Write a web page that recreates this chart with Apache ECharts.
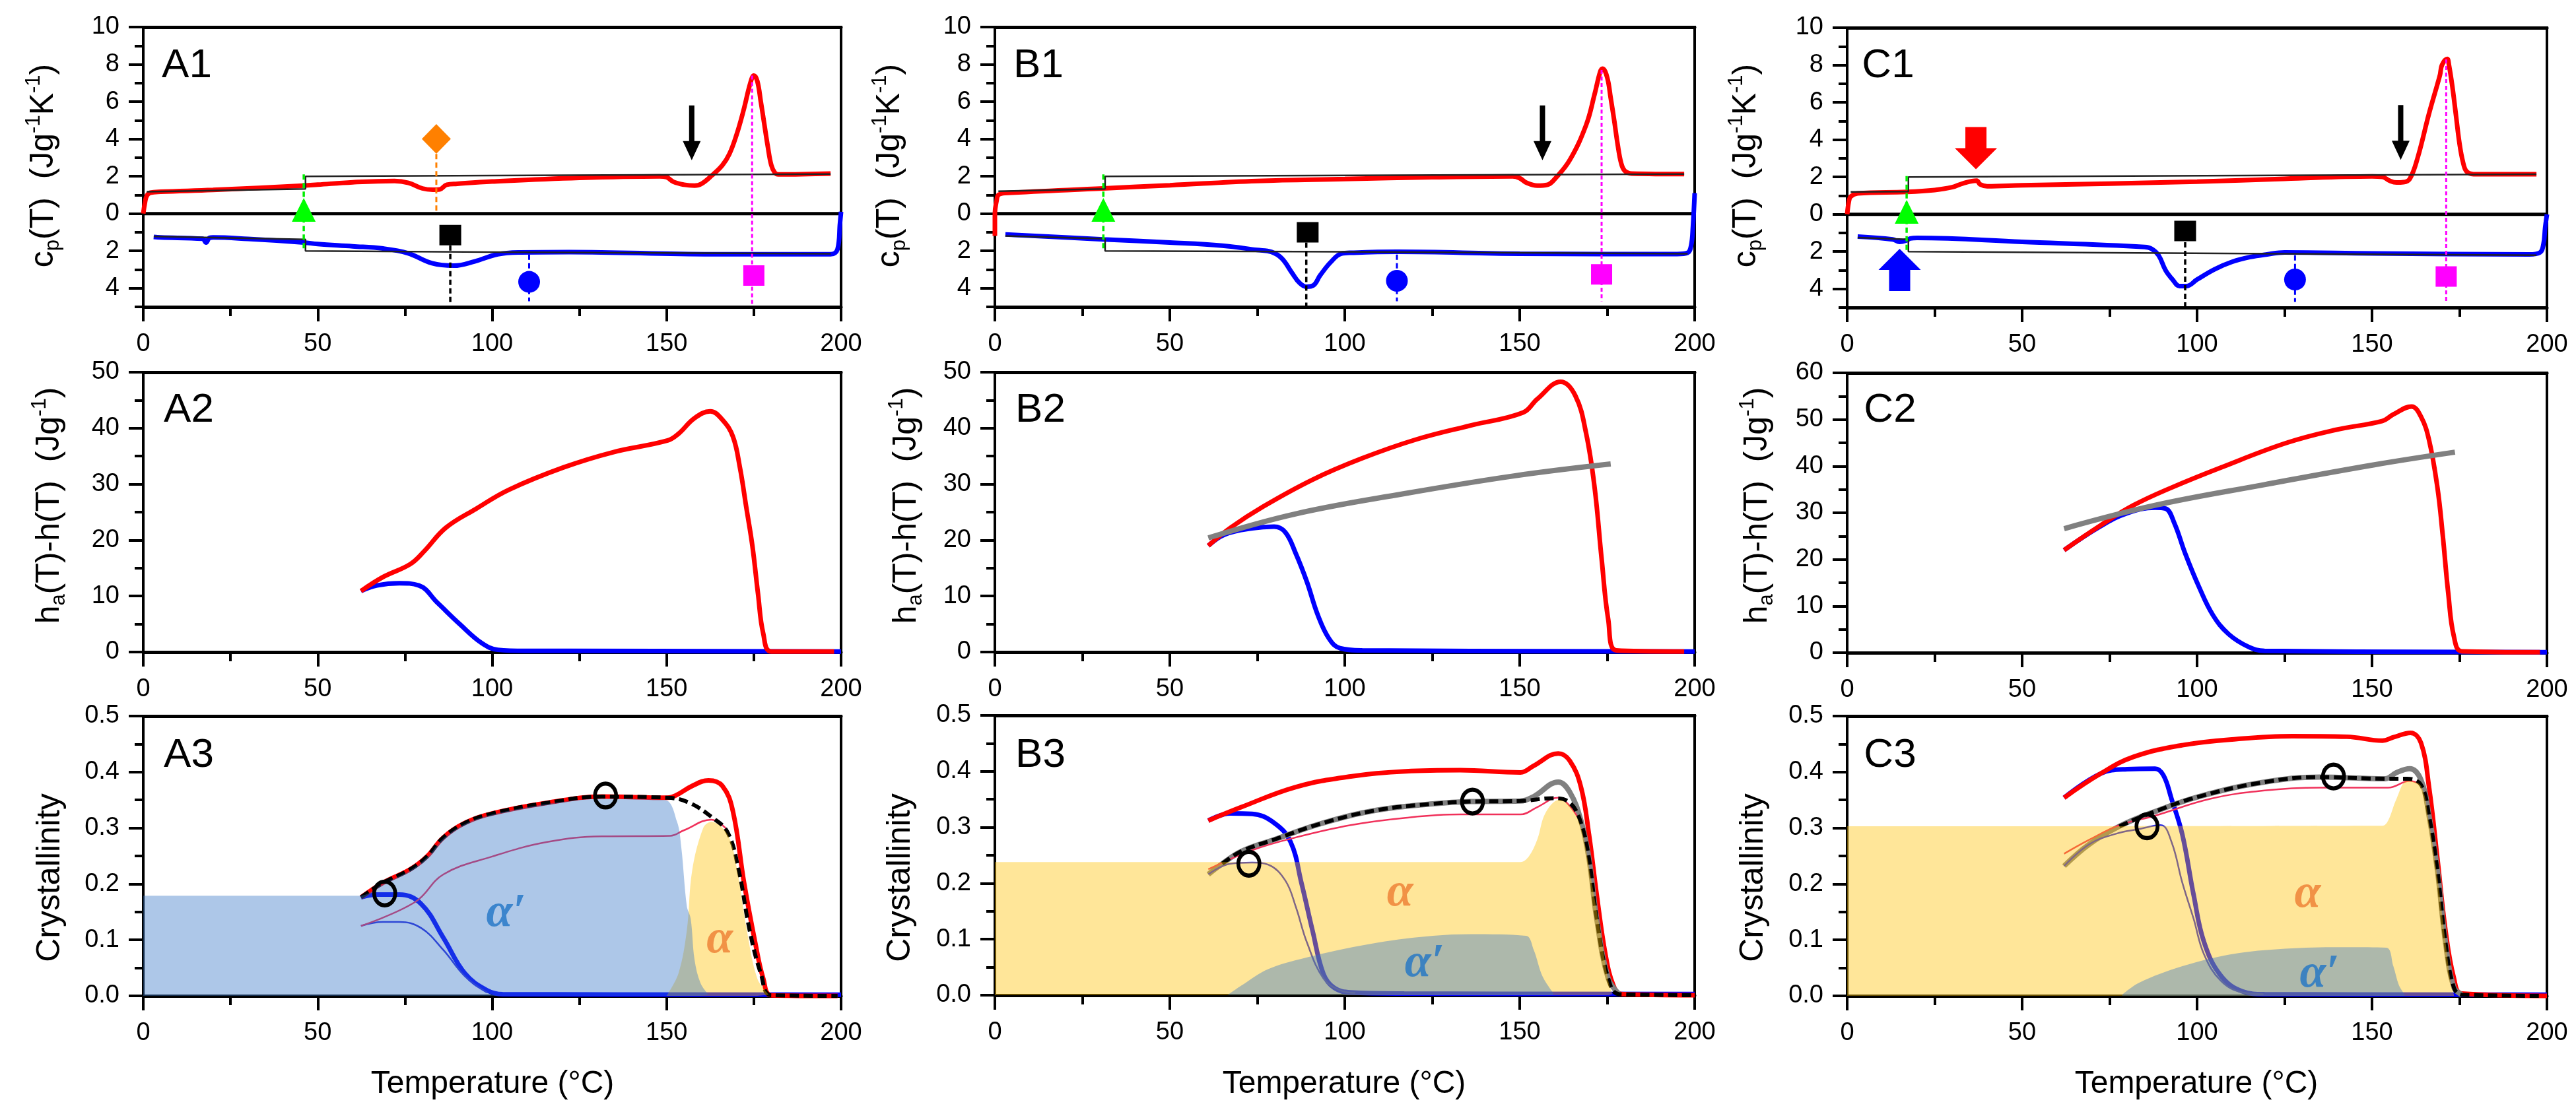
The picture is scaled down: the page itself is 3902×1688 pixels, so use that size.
<!DOCTYPE html>
<html><head><meta charset="utf-8">
<script src="https://cdn.jsdelivr.net/npm/echarts@6/dist/echarts.min.js"></script>
<style>html,body{margin:0;padding:0;background:#fff}#c{width:3902px;height:1688px}</style>
</head><body><div id="c"></div>
<script>
// ---------- tick values ----------
const cpMajor=[-4,-2,0,2,4,6,8,10], cpMinor=[-5,-3,-1,1,3,5,7,9];
const hMajor=[0,10,20,30,40,50], hMinor=[5,15,25,35,45];
const hMajorC=[0,10,20,30,40,50,60], hMinorC=[5,15,25,35,45,55];
const crMajor=[0,0.1,0.2,0.3,0.4,0.5], crMinor=[0.05,0.15,0.25,0.35,0.45];
const zeroLine=[[0,0],[200,0]];

// ---------- A1 ----------
const a1Red=[[0,0],[0.5,0.6],[1,0.95],[2,1.12],[5,1.17],[20,1.27],[46,1.5],[50,1.55],[60,1.68],[72,1.75],[76,1.65],[80,1.35],[83,1.28],[85,1.3],[87,1.55],[90,1.6],[100,1.72],[125,1.92],[148,2.0],[150,1.95],[152,1.7],[155,1.55],[158,1.5],[160,1.6],[163,2.05],[166,2.6],[168,3.2],[170,4.2],[172,5.5],[174,7.0],[175,7.4],[176,7.1],[177,6.0],[178,4.8],[179,3.6],[180,2.6],[181,2.2],[182,2.1],[197,2.15]];
const a1Blue=[[3,-1.25],[5,-1.28],[17,-1.35],[18,-1.55],[19,-1.3],[20,-1.28],[30,-1.36],[46,-1.55],[50,-1.63],[60,-1.75],[68.7,-1.87],[75.8,-2.12],[82.8,-2.66],[89,-2.79],[95,-2.56],[101.6,-2.18],[108,-2.08],[122,-2.06],[163,-2.18],[197,-2.18],[199,-1.9],[199.7,-0.5],[200,0.1]];
const a1BaseUp=[[1,1.17],[46.5,1.32],[46.5,2.0],[197,2.12]];
const a1BaseDn=[[3,-1.22],[46.5,-1.38],[46.5,-2.0],[100,-2.06],[197,-2.15]];
const a1Green=[[46,2.1],[46,-2.0]], a1Orange=[[84,3.2],[84,0]], a1Black=[[88,-1.7],[88,-4.9]], a1BlueG=[[110.6,-2.2],[110.6,-4.7]], a1Mag=[[174.5,7.4],[174.5,-4.9]];
const a1Tri=[[46,0.2]], a1Dia=[[84,4]], a1Sq=[[88,-1.15]], a1Cir=[[110.6,-3.66]], a1MagSq=[[175,-3.32]], a1Arrow=[[157.2,4.33]];
// ---------- B1 ----------
const b1Red=[[0,-1.2],[0,0],[0.5,0.7],[1,1.0],[3,1.1],[31,1.35],[50,1.52],[75,1.75],[100,1.85],[125,1.95],[148,2.0],[150,1.9],[152,1.65],[155,1.5],[158,1.55],[160,1.85],[164.3,2.87],[169,4.76],[171.4,6.4],[173,7.6],[173.7,7.77],[175,7.3],[176,6.2],[177,5],[178,3.7],[179,2.7],[180,2.3],[182,2.15],[197,2.12]];
const b1Blue=[[3,-1.12],[31,-1.38],[50,-1.55],[65,-1.72],[75,-1.95],[79,-2.05],[82,-2.4],[85,-3.2],[87,-3.7],[89,-3.92],[91,-3.85],[93,-3.3],[96,-2.6],[99,-2.15],[102,-2.1],[115,-2.05],[150,-2.15],[195,-2.17],[198,-2.1],[199,-1.7],[199.5,-0.7],[200,1.1]];
const b1BaseUp=[[1,1.2],[31.5,1.32],[31.5,2.0],[197,2.12]];
const b1BaseDn=[[3,-1.2],[31.5,-1.35],[31.5,-2.0],[100,-2.05],[198,-2.15]];
const b1Green=[[31,2.1],[31,-1.95]], b1Black=[[89,-1.55],[89,-5]], b1BlueG=[[114.9,-2.2],[114.9,-4.7]], b1Mag=[[173.4,7.7],[173.4,-4.7]];
const b1Tri=[[31,0.2]], b1Sq=[[89.4,-1.0]], b1Cir=[[114.9,-3.6]], b1MagSq=[[173.4,-3.26]], b1Arrow=[[156.5,4.33]];
// ---------- C1 ----------
const c1Red=[[0,0],[0.5,0.7],[1,0.95],[3,1.12],[17,1.2],[25,1.3],[30,1.45],[33,1.65],[37,1.8],[38,1.6],[40,1.5],[50,1.55],[100,1.75],[125,1.9],[150,2.03],[153,2.0],[155,1.8],[157,1.7],[159,1.72],[160.8,1.9],[163,3.0],[166.3,5.4],[169.4,7.45],[170,8.0],[171.5,8.33],[172,8.0],[173,6.8],[174,5.3],[175,3.8],[176,2.8],[177,2.3],[179,2.15],[197,2.15]];
const c1Blue=[[3,-1.2],[13,-1.35],[15,-1.48],[17,-1.4],[18,-1.3],[20,-1.27],[50,-1.48],[85,-1.75],[87,-1.85],[89,-2.2],[91,-3.0],[93,-3.5],[95,-3.85],[97,-3.85],[100,-3.5],[105,-2.95],[110,-2.55],[115,-2.3],[120,-2.15],[125,-2.05],[150,-2.1],[195,-2.15],[198,-2.05],[199,-1.6],[199.5,-0.7],[200,0]];
const c1BaseUp=[[1,1.2],[17.5,1.22],[17.5,2.0],[197,2.15]];
const c1BaseDn=[[3,-1.25],[17.5,-1.35],[17.5,-2.0],[197,-2.2]];
const c1Green=[[17,2.05],[17,-2.0]], c1Black=[[96.6,-1.5],[96.6,-5]], c1BlueG=[[128,-2.2],[128,-4.7]], c1Mag=[[171.2,8.3],[171.2,-4.7]];
const c1Tri=[[17,0.13]], c1Sq=[[96.6,-0.9]], c1Cir=[[128,-3.5]], c1MagSq=[[171.2,-3.34]], c1Arrow=[[158.2,4.38]], c1RedArrow=[[36.8,3.54]], c1BlueArrow=[[15,-2.98]];

// ---------- A2 / B2 / C2 ----------
const a2Red=[[62.4,10.9],[68.7,13.4],[76.5,15.7],[80.5,18],[86.7,22.2],[95.4,25.6],[104.8,29],[120.5,33],[134.6,35.7],[150.3,37.8],[153.4,39],[158,41.8],[162.5,43],[166,41.5],[169,38.5],[171,33],[172.8,26],[174.6,18.9],[176.2,10.4],[177.7,3.3],[180,0.1],[198,0.1]];
const a2Blue=[[62.4,10.9],[67,11.9],[73.4,12.3],[79,11.9],[84.4,8.75],[90.7,5],[97,1.6],[101.6,0.4],[109.5,0.2],[122,0.2],[200,0.1]];
const b2Red=[[61,19],[67.3,22.2],[76.7,26],[90.8,30.8],[104.9,34.6],[120.5,38],[136,40.5],[151,42.8],[155,45.2],[161.7,48.3],[165.9,45.8],[169,39],[171.4,29.4],[173.4,16.7],[175.3,5.8],[177.6,0.3],[197,0.1]];
const b2Blue=[[61,19],[65.7,21],[73.5,22.1],[79.8,22.4],[83,21.4],[86,17.6],[89.2,12.5],[92.3,6.6],[95.5,2.4],[98.6,0.7],[105,0.3],[200,0.1]];
const b2Gray=[[61,20.4],[86,24.7],[117,28.3],[148.7,31.5],[176,33.6]];
const c2Red=[[62,22],[72.4,27.3],[81.8,31.6],[92.7,35.4],[106.8,39.7],[125.6,45],[139.7,47.8],[153,49.7],[156.1,51.1],[161.3,52.8],[164,50.6],[166.3,45.6],[168.7,35.4],[170.2,25.3],[171.8,12.7],[173.4,3.5],[175.7,0.3],[198,0.1]];
const c2Blue=[[62,22],[72.4,27.1],[80,29.9],[88,31.1],[91,30.9],[93.5,27.8],[96.6,21.3],[100.5,14.2],[104.5,8.1],[109,4],[114.6,1.3],[119.3,0.4],[200,0.1]];
const c2Gray=[[62,26.6],[88,31.6],[119,36],[150.7,40.3],[173.7,43]];

// ---------- A3 ----------
const a3Red=[[62.4,0.176],[68.7,0.202],[76.5,0.226],[81.3,0.249],[86,0.283],[92.2,0.309],[100,0.326],[115.8,0.345],[131.5,0.356],[150.3,0.354],[152.6,0.358],[157.3,0.375],[162,0.385],[166,0.375],[169,0.33],[172.2,0.202],[175.4,0.095],[177.7,0.031],[180,0.001],[199,0]];
const a3Dash=[[62.4,0.176],[68.7,0.202],[76.5,0.226],[81.3,0.249],[86,0.283],[92.2,0.309],[100,0.326],[115.8,0.345],[131.5,0.356],[150.3,0.354],[156.5,0.345],[162.8,0.32],[167.5,0.292],[170.7,0.223],[173.8,0.117],[177,0.04],[180,0.001],[199,0]];
const a3ThinRed=[[62.4,0.125],[78,0.168],[86,0.217],[100,0.249],[115.8,0.275],[131.5,0.285],[151,0.286],[155,0.296],[162.8,0.315],[167.5,0.296]];
const a3ThinBlue=[[62.4,0.125],[68.7,0.132],[73.4,0.132],[79.7,0.121],[86,0.082],[92.2,0.035],[98.5,0.006]];
const a3Blue=[[62.4,0.176],[67,0.181],[73.4,0.181],[79.7,0.164],[86,0.104],[92.2,0.04],[98.5,0.01],[103,0.003],[200,0.002]];
const a3FillBlue=[[0,0.179],[62,0.179],[68.7,0.2],[76.5,0.224],[81.3,0.247],[86,0.281],[92.2,0.307],[100,0.324],[115.8,0.343],[131.5,0.352],[149.5,0.35],[153,0.311],[154.2,0.266],[155.8,0.16],[156.9,0.138],[158,0.065],[159.7,0.023],[162,0.002]];
const a3FillYellow=[[150,0],[153.4,0.04],[155.8,0.117],[157.3,0.223],[160.5,0.3],[162.8,0.311],[167.5,0.288],[170,0.232],[173,0.117],[176,0.031],[179.3,0.002]];
const a3Rings=[[69.2,0.183],[132.5,0.358]];
const a3AlphaP=[[104,0.147]], a3Alpha=[[165.2,0.1]];
// ---------- B3 ----------
const b3Red=[[61,0.312],[70.4,0.336],[86,0.372],[101.7,0.391],[117.4,0.4],[133,0.402],[150.2,0.398],[154,0.41],[161,0.432],[164.3,0.419],[167.5,0.372],[169.8,0.287],[172,0.18],[174.5,0.073],[176.8,0.017],[179,0.002],[200,0]];
const b3Gray=[[61,0.216],[65,0.235],[70.4,0.257],[79.8,0.278],[93.9,0.308],[109.5,0.331],[125.2,0.342],[136,0.346],[150.2,0.347],[154,0.355],[161,0.381],[164.3,0.363],[167.5,0.312],[169.8,0.244],[172,0.137],[175.3,0.03],[178.4,0.002]];
const b3Dash=[[65,0.235],[70.4,0.257],[79.8,0.278],[93.9,0.308],[109.5,0.331],[125.2,0.342],[136,0.346],[150.2,0.347],[159.6,0.352],[164.3,0.344],[167.5,0.308],[169.8,0.244],[172,0.137],[175.3,0.03],[178.4,0.002],[199,0]];
const b3ThinRed=[[61,0.225],[73.5,0.259],[86,0.282],[101.7,0.304],[117.4,0.317],[133,0.323],[150.2,0.323],[155,0.336],[161,0.353],[164.3,0.338],[167.5,0.308]];
const b3ThinBlue=[[61,0.216],[67.3,0.235],[73.5,0.237],[78.2,0.233],[83,0.205],[86,0.158],[89.2,0.094],[93.9,0.03],[98.6,0.009],[103,0.004]];
const b3Blue=[[61,0.312],[67.3,0.325],[73.5,0.324],[79.8,0.308],[84.5,0.274],[87.6,0.201],[90.8,0.115],[93.9,0.038],[97,0.013],[101.7,0.005],[117,0.003],[200,0.002]];
const b3FillYellow=[[0,0.238],[150.2,0.238],[152.6,0.248],[155,0.278],[157.3,0.325],[161.2,0.349],[164.3,0.338],[167.5,0.3],[170.6,0.2],[173,0.115],[175.3,0.026],[176.5,0.002]];
const b3FillBlue=[[66.5,0],[70.4,0.017],[78.2,0.047],[90.8,0.07],[109.5,0.094],[125.2,0.106],[136,0.109],[151.8,0.106],[154,0.081],[156.5,0.034],[159.6,0.004]];
const b3Rings=[[72.6,0.235],[136.5,0.346]];
const b3AlphaP=[[122.8,0.056]], b3Alpha=[[115.8,0.182]];
// ---------- C3 ----------
const c3Red=[[62,0.354],[72.4,0.397],[81.8,0.427],[95.8,0.448],[111.5,0.459],[127.2,0.464],[142.8,0.463],[153,0.456],[156.1,0.462],[161,0.47],[164,0.452],[166.3,0.373],[168.7,0.245],[171,0.117],[173.4,0.032],[175.7,0.004],[200,0]];
const c3Gray=[[62,0.232],[69.2,0.271],[77.8,0.303],[86.5,0.326],[100.5,0.356],[119.3,0.382],[135,0.391],[153.8,0.388],[157,0.399],[160.8,0.406],[164,0.386],[166.3,0.322],[168.7,0.224],[171,0.096],[173.4,0.015],[175.7,0.002]];
const c3Dash=[[77.8,0.303],[86.5,0.326],[100.5,0.356],[119.3,0.382],[135,0.391],[153.8,0.388],[160,0.388],[164,0.377],[166.3,0.322],[168.7,0.224],[171,0.096],[173.4,0.015],[175.7,0.002],[199,0]];
const c3ThinRed=[[62,0.254],[69.2,0.279],[77.8,0.305],[88,0.322],[103.7,0.352],[119.3,0.367],[135,0.372],[154.6,0.372],[160.8,0.384],[164,0.377]];
const c3ThinBlue=[[62,0.232],[69.2,0.271],[77,0.29],[83.3,0.298],[89.6,0.305],[92.7,0.275],[95.8,0.202],[99,0.138],[102,0.074],[106.8,0.027],[113,0.006],[119,0.003]];
const c3Blue=[[62,0.354],[72.4,0.397],[80,0.405],[88,0.406],[90.4,0.394],[92.7,0.352],[95.8,0.288],[99,0.181],[102,0.096],[106.8,0.036],[113,0.008],[119.3,0.003],[200,0.002]];
const c3FillYellow=[[0,0.303],[153,0.304],[154.6,0.313],[157,0.352],[160,0.384],[164,0.375],[166.3,0.309],[168.7,0.211],[171,0.096],[172.6,0.019],[173.4,0.003]];
const c3FillBlue=[[78.6,0.002],[83.3,0.023],[95.8,0.053],[111.5,0.076],[127.2,0.085],[142.8,0.087],[154.1,0.086],[156.1,0.053],[157.7,0.019],[159.3,0.003]];
const c3Rings=[[85.7,0.303],[139,0.392]];
const c3AlphaP=[[135,0.038]], c3Alpha=[[131.6,0.181]];

// ---------- layout ----------
const F='"Liberation Sans",Arial,sans-serif';
const xs=[[217,1057],[1507,1060],[2798,1060]];
const ys=[[41,424,-5,10],[564,424,0,50],[1085,424,0,0.5]];
const grids=[],xAxes=[],yAxes=[],series=[],graphics=[];
const fmtCp=v=>String(Math.abs(v)), fmtH=v=>String(v), fmtC=v=>v.toFixed(1);
function addPanel(col,row,major,minor,fmt,ymax,dy){
  const g=grids.length;
  grids.push({left:xs[col][0],width:xs[col][1],top:ys[row][0]+dy,height:ys[row][1],show:true,borderColor:'#000',borderWidth:4,backgroundColor:'transparent',containLabel:false});
  xAxes.push({gridIndex:g,type:'value',position:'bottom',min:0,max:200,interval:50,splitLine:{show:false},
    axisLine:{show:true,onZero:false,lineStyle:{color:'#000',width:5}},axisTick:{show:true,length:22,lineStyle:{color:'#000',width:4}},
    minorTick:{show:true,splitNumber:2,length:14,lineStyle:{color:'#000',width:4}},minorSplitLine:{show:false},
    axisLabel:{show:true,margin:38,fontSize:38,color:'#000',fontFamily:F,hideOverlap:false,showMinLabel:true,showMaxLabel:true}});
  xAxes.push({gridIndex:g,type:'value',position:'top',min:0,max:200,interval:50,splitLine:{show:false},
    axisLine:{show:true,onZero:false,lineStyle:{color:'#000',width:5}},axisTick:{show:false},axisLabel:{show:false}});
  yAxes.push({gridIndex:g,type:'value',position:'left',min:ys[row][2],max:ymax,splitLine:{show:false},
    axisLine:{show:true,onZero:false,lineStyle:{color:'#000',width:4}},
    axisTick:{show:true,length:22,customValues:major,lineStyle:{color:'#000',width:4}},
    axisLabel:{show:true,margin:36,fontSize:38,color:'#000',fontFamily:F,customValues:major,formatter:fmt,hideOverlap:false}});
  yAxes.push({gridIndex:g,type:'value',position:'left',min:ys[row][2],max:ymax,splitLine:{show:false},
    axisLine:{show:false,onZero:false},axisTick:{show:true,length:13,customValues:minor,lineStyle:{color:'#000',width:4}},axisLabel:{show:false}});
  return g*2;
}
const base={type:'line',symbol:'none',silent:true,animation:false,clip:false};
function line(ax,data,color,width,extra){series.push(Object.assign({},base,{z:2,xAxisIndex:ax,yAxisIndex:ax,data,lineStyle:Object.assign({color,width,cap:'butt'},extra&&extra.ls),smooth:extra&&extra.straight?false:0.4}));}
const straight=()=>({straight:true});
function fill(ax,data,color){series.push(Object.assign({},base,{z:3,xAxisIndex:ax,yAxisIndex:ax,data,lineStyle:{width:0,color:'transparent'},areaStyle:{color,opacity:1,origin:'start'},smooth:0.35}));}
function mark(ax,data,symbol,size,color,extra){series.push({type:'scatter',z:4,silent:true,animation:false,clip:false,xAxisIndex:ax,yAxisIndex:ax,data,symbol,symbolSize:size,itemStyle:Object.assign({color,opacity:1},extra)});}
function word(ax,data,text,color,size){series.push({type:'scatter',z:5,silent:true,animation:false,clip:false,xAxisIndex:ax,yAxisIndex:ax,data,symbol:'circle',symbolSize:1,itemStyle:{color:'transparent'},
  label:{show:true,position:'inside',formatter:text,color,fontSize:size,fontStyle:'italic',fontWeight:'bold',fontFamily:'"Liberation Serif",serif'}});}
const ARROW='path://M9.5 0H17.5V54H27L13.5 83L0 54H9.5Z';
const FAT_DOWN='path://M16 0H48V32H64L32 64L0 32H16Z', FAT_UP='path://M32 0L64 32H48V64H16V32H0Z';
const DASH=[8,5];
function topPanel(ax,p){
  line(ax,zeroLine,'#000',5,straight());
  line(ax,p.red,'#ff0000',7);
  line(ax,p.blue,'#0000ff',7);
  line(ax,p.up,'#222',2.5,straight());
  line(ax,p.dn,'#222',2.5,straight());
  line(ax,p.green,'#00ee00',3.5,{straight:true,ls:{type:DASH}});
  if(p.orange) line(ax,p.orange,'#ff8000',3,{straight:true,ls:{type:DASH}});
  line(ax,p.black,'#000',3.5,{straight:true,ls:{type:DASH}});
  line(ax,p.blueG,'#0000ff',3,{straight:true,ls:{type:DASH}});
  line(ax,p.mag,'#ff00ff',3,{straight:true,ls:{type:[6,4]}});
  mark(ax,p.tri,'triangle',[36,36],'#00ff00');
  if(p.dia) mark(ax,p.dia,'diamond',[44,45],'#ff8000');
  mark(ax,p.sq,'rect',[33,31],'#000');
  mark(ax,p.cir,'circle',[33,33],'#0000ff');
  mark(ax,p.magSq,'rect',[32,31],'#ff00ff');
  mark(ax,p.arrow,ARROW,[27,83],'#000');
  if(p.redA) mark(ax,p.redA,FAT_DOWN,[64,64],'#ff0000');
  if(p.blueA) mark(ax,p.blueA,FAT_UP,[64,64],'#0000ff');
}
function midPanel(ax,blue,red,gray){
  line(ax,blue,'#0000ff',7);
  line(ax,red,'#ff0000',7);
  if(gray) line(ax,gray,'#808080',8);
}
const YEL='rgba(255,192,0,0.4)',BLU='rgba(50,115,197,0.4)';
function lowPanel(ax,p){
  line(ax,p.blue,'#0000ff',7);
  line(ax,p.red,'#ff0000',7);
  if(p.gray) line(ax,p.gray,'#808080',8);
  line(ax,p.thinBlue,'#2a2ae0',2.5);
  line(ax,p.thinRed,'#f0305a',2.5);
  line(ax,p.dash,'#000',6,{ls:{type:[14,7]}});
  fill(ax,p.fy,YEL);fill(ax,p.fb,BLU);
  mark(ax,p.rings,'circle',[32,36],'transparent',{borderColor:'#000',borderWidth:6});
  word(ax,p.aP,'α′','#1f74c6',72);
  word(ax,p.a,'α','#ed7d31',72);
}
function ylab(x,y,text,rich){graphics.push({type:'text',x,y,rotation:Math.PI/2,silent:true,style:{text,rich,font:'50px '+F,fill:'#000',align:'center',verticalAlign:'middle'}});}
function tlab(x,y,text,size){graphics.push({type:'text',x,y,silent:true,style:{text,font:size+'px '+F,fill:'#000',align:'center',verticalAlign:'middle'}});}
const rich={n:{fontSize:50,fontFamily:F,fill:'#000',lineHeight:60,verticalAlign:'middle'},sub:{fontSize:31,fontFamily:F,fill:'#000',lineHeight:60,verticalAlign:'bottom'},sup:{fontSize:31,fontFamily:F,fill:'#000',lineHeight:60,verticalAlign:'top'}};
const cpT='{n|c}{sub|p}{n|(T)  (Jg}{sup|-1}{n|K}{sup|-1}{n|)}', hT='{n|h}{sub|a}{n|(T)-h(T)  (Jg}{sup|-1}{n|)}', crT='{n|Crystallinity}';

// panels
let ax;
ax=addPanel(0,0,cpMajor,cpMinor,fmtCp,10,0);
topPanel(ax,{red:a1Red,blue:a1Blue,up:a1BaseUp,dn:a1BaseDn,green:a1Green,orange:a1Orange,black:a1Black,blueG:a1BlueG,mag:a1Mag,tri:a1Tri,dia:a1Dia,sq:a1Sq,cir:a1Cir,magSq:a1MagSq,arrow:a1Arrow});
ax=addPanel(0,1,hMajor,hMinor,fmtH,50,0); midPanel(ax,a2Blue,a2Red);
ax=addPanel(0,2,crMajor,crMinor,fmtC,0.5,0);
lowPanel(ax,{blue:a3Blue,red:a3Red,thinBlue:a3ThinBlue,thinRed:a3ThinRed,dash:a3Dash,fy:a3FillYellow,fb:a3FillBlue,rings:a3Rings,aP:a3AlphaP,a:a3Alpha});
ax=addPanel(1,0,cpMajor,cpMinor,fmtCp,10,0);
topPanel(ax,{red:b1Red,blue:b1Blue,up:b1BaseUp,dn:b1BaseDn,green:b1Green,black:b1Black,blueG:b1BlueG,mag:b1Mag,tri:b1Tri,sq:b1Sq,cir:b1Cir,magSq:b1MagSq,arrow:b1Arrow});
ax=addPanel(1,1,hMajor,hMinor,fmtH,50,0); midPanel(ax,b2Blue,b2Red,b2Gray);
ax=addPanel(1,2,crMajor,crMinor,fmtC,0.5,-1);
lowPanel(ax,{blue:b3Blue,red:b3Red,gray:b3Gray,thinBlue:b3ThinBlue,thinRed:b3ThinRed,dash:b3Dash,fy:b3FillYellow,fb:b3FillBlue,rings:b3Rings,aP:b3AlphaP,a:b3Alpha});
ax=addPanel(2,0,cpMajor,cpMinor,fmtCp,10,1);
topPanel(ax,{red:c1Red,blue:c1Blue,up:c1BaseUp,dn:c1BaseDn,green:c1Green,black:c1Black,blueG:c1BlueG,mag:c1Mag,tri:c1Tri,sq:c1Sq,cir:c1Cir,magSq:c1MagSq,arrow:c1Arrow,redA:c1RedArrow,blueA:c1BlueArrow});
ax=addPanel(2,1,hMajorC,hMinorC,fmtH,60,1); midPanel(ax,c2Blue,c2Red,c2Gray);
ax=addPanel(2,2,crMajor,crMinor,fmtC,0.5,0);
lowPanel(ax,{blue:c3Blue,red:c3Red,gray:c3Gray,thinBlue:c3ThinBlue,thinRed:c3ThinRed,dash:c3Dash,fy:c3FillYellow,fb:c3FillBlue,rings:c3Rings,aP:c3AlphaP,a:c3Alpha});

// texts
[[66,75,76],[1348,1373,1364],[2645,2662,2656]].forEach(c=>{ylab(c[0],251,cpT,rich);ylab(c[1],766,hT,rich);ylab(c[2],1330,crT,rich);});
[746,2036,3327].forEach(x=>tlab(x,1643,'Temperature (°C)',48));
[['A',283],['B',1573],['C',2860]].forEach(p=>{tlab(p[1],100,p[0]+'1',62);tlab(p[1]+3,622,p[0]+'2',62);tlab(p[1]+3,1145,p[0]+'3',62);});

const chart=echarts.init(document.getElementById('c'),null,{width:3902,height:1688,renderer:'canvas'});
chart.setOption({animation:false,backgroundColor:'#fff',grid:grids,xAxis:xAxes,yAxis:yAxes,series,graphic:{elements:graphics}});
</script></body></html>
